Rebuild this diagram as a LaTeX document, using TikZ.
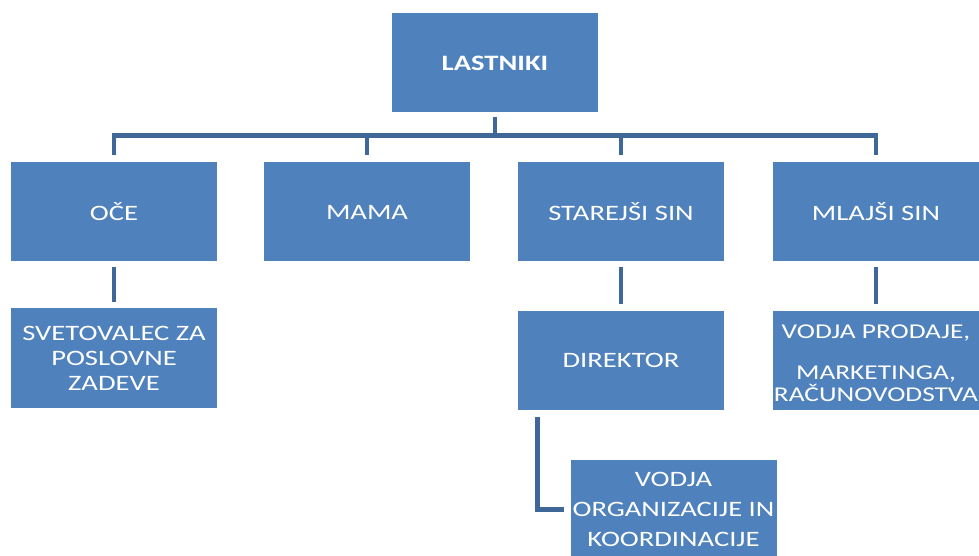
\documentclass[tikz,border=0pt]{standalone}
\usepackage{fontspec}
\setmainfont[FakeStretch=1.3]{Carlito}
\definecolor{boxblue}{RGB}{79,129,189}
\definecolor{linkblue}{RGB}{63,104,152}
\tikzset{every picture/.style={line width=0.75pt}}
\tikzset{
  orgbox/.style={fill=boxblue, text=white, minimum width=154.5pt, minimum height=74.25pt, inner sep=0.75pt, align=center, font=\fontsize{16.5}{18.75}\selectfont},
  orglink/.style={draw=linkblue, line width=3.5pt},
}

\begin{document}
\begin{tikzpicture}[x=0.75pt,y=0.75pt,yscale=-1,xscale=1]
%set diagram left start at 0, and has height of 556
\clip (0,0) rectangle (979,556);

%Shape: Rectangle [id:lastnik] 
\node [orgbox, font=\fontsize{16.5}{18.75}\selectfont\bfseries] (lastnik) at (495,63) {LASTNIKI};
%Shape: Rectangle [id:oce] 
\node [orgbox] (oce) at (114,212) {OČE};
%Shape: Rectangle [id:mama] 
\node [orgbox] (mama) at (367,212) {MAMA};
%Shape: Rectangle [id:starejsi] 
\node [orgbox] (starejsi) at (621,212) {STAREJŠI SIN};
%Shape: Rectangle [id:mlajsi] 
\node [orgbox] (mlajsi) at (876,212) {MLAJŠI SIN};
%Shape: Rectangle [id:svetovalec] 
\node [orgbox] (svetovalec) at (114,358) {SVETOVALEC ZA\\POSLOVNE\\ZADEVE};
%Shape: Rectangle [id:direktor] 
\node [orgbox] (direktor) at (621,360.5) {DIREKTOR};
%Shape: Rectangle [id:prodaja] 
\node [orgbox, minimum height=74.25pt, text height=0pt, font=\fontsize{16}{16.5}\selectfont] (prodaja) at (876,360.5) {};
\node [text=white, inner sep=0pt, align=center, font=\fontsize{15.8}{16.5}\selectfont] (prodajatext) at (876,363) {VODJA PRODAJE,\\[14pt]MARKETINGA,\\RAČUNOVODSTVA};
%Shape: Rectangle [id:organizacija] 
\node [orgbox, font=\fontsize{16.5}{22.5}\selectfont] (organizacija) at (673.5,509.5) {VODJA\\ORGANIZACIJE IN\\KOORDINACIJE};

%Straight Lines [id:bar] 
\coordinate (bar) at (495,135.5);
\draw [orglink, shorten <=3pt] (lastnik.south) -- (bar);
\draw [orglink, shorten <=5pt, shorten >=5pt] (oce.north) -- (oce.north |- bar) -- (mlajsi.north |- bar) -- (mlajsi.north);
\draw [orglink, shorten >=5pt] (mama.north |- bar) -- (mama.north);
\draw [orglink, shorten >=5pt] (starejsi.north |- bar) -- (starejsi.north);
%Straight Lines [id:level3] 
\draw [orglink, shorten <=4pt, shorten >=4.5pt] (oce.south) -- (svetovalec.north);
\draw [orglink, shorten <=4pt, shorten >=4.5pt] (starejsi.south) -- (direktor.north);
\draw [orglink, shorten <=4pt, shorten >=4.5pt] (mlajsi.south) -- (prodaja.north);
%Straight Lines [id:elbow] 
\draw [orglink, shorten <=5pt, shorten >=4.5pt] ([xshift=15pt]direktor.south west) |- (organizacija.west);

\end{tikzpicture}
\end{document}
